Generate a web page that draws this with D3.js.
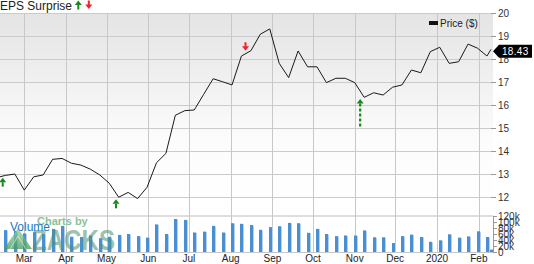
<!DOCTYPE html>
<html><head><meta charset="utf-8">
<script src="https://cdn.jsdelivr.net/npm/d3@7"></script>
<style>html,body{margin:0;padding:0;background:#fff;}svg{display:block;font-family:"Liberation Sans",Arial,sans-serif;}</style>
</head><body><svg id="c" width="534" height="264"></svg>
<script>
// ---- data ----
const priceDates = ["2019-02-11","2019-02-15","2019-02-22","2019-03-01","2019-03-08","2019-03-15","2019-03-22","2019-03-29","2019-04-05","2019-04-12","2019-04-19","2019-04-26","2019-05-03","2019-05-10","2019-05-17","2019-05-24","2019-05-31","2019-06-07","2019-06-14","2019-06-21","2019-06-28","2019-07-05","2019-07-12","2019-07-19","2019-07-26","2019-08-02","2019-08-09","2019-08-16","2019-08-23","2019-08-30","2019-09-06","2019-09-13","2019-09-20","2019-09-27","2019-10-04","2019-10-11","2019-10-18","2019-10-25","2019-11-01","2019-11-08","2019-11-15","2019-11-22","2019-11-29","2019-12-06","2019-12-13","2019-12-20","2019-12-27","2020-01-03","2020-01-10","2020-01-17","2020-01-24","2020-01-31","2020-02-07","2020-02-10"];
const prices = [12.88,12.94,13.00,12.30,12.88,12.96,13.64,13.68,13.47,13.39,13.21,12.96,12.60,11.99,12.20,11.93,12.42,13.49,13.90,15.56,15.76,15.79,16.47,17.15,17.02,16.88,18.14,18.37,19.09,19.32,17.82,17.20,18.36,17.67,17.67,16.98,17.17,17.17,16.98,16.34,16.54,16.44,16.78,16.88,17.53,17.41,18.33,18.52,17.82,17.89,18.66,18.48,18.14,18.43];
const volDates = priceDates.slice(1);
const volumes = [73,70,62,66,60,77,87,51,50,55,46,51,57,60,53,48,92,60,110,107,65,68,87,65,96,94,90,74,83,86,97,96,64,77,60,53,55,55,72,49,49,30,53,58,50,34,39,59,48,52,69,50,8]; // thousands
const epsDates = ["2019-02-13","2019-05-08","2019-08-12","2019-11-05"];
const epsDir = ["up","up","down","up-dashed"];
const epsAnchor = [12.84,11.90,18.37,16.27];
const monthTicks = ["2019-03-01","2019-04-01","2019-05-01","2019-06-01","2019-07-01","2019-08-01","2019-09-01","2019-10-01","2019-11-01","2019-12-01","2020-01-01","2020-02-01"];
const monthLabels = ["Mar","Apr","May","Jun","Jul","Aug","Sep","Oct","Nov","Dec","2020","Feb"];
const priceTicks = [12,13,14,15,16,17,18,19,20];
const volTicks = [0,20,40,60,80,100,120];
const volTickLabels = ["0","20k","40k","60k","80k","100k","120k"];
const lastPrice = "18.43";

// ---- layout ----
const svg = d3.select("#c");
const parse = d3.timeParse("%Y-%m-%d");
const plotL = 0, plotR = 493, plotT = 13, sepY = 216, plotB = 252;
const x = d3.scaleTime().domain([parse("2019-02-11"), parse("2020-02-10")]).range([0, 491]);
const y = d3.scaleLinear().domain([12, 20]).range([197, 13.3]);
const yv = d3.scaleLinear().domain([0, 120]).range([plotB, sepY]);
const GREEN = "#17891b", RED = "#f0232b";

const defs = svg.append("defs");
const g = defs.append("linearGradient").attr("id","bg").attr("x1",0).attr("y1",0).attr("x2",0).attr("y2",1);
g.append("stop").attr("offset","0%").attr("stop-color","#e4e4e4");
g.append("stop").attr("offset","35%").attr("stop-color","#f1f1f1");
g.append("stop").attr("offset","62%").attr("stop-color","#fcfcfc");
g.append("stop").attr("offset","100%").attr("stop-color","#ffffff");
const lg = defs.append("linearGradient").attr("id","logo").attr("x1",0).attr("y1",0).attr("x2",0).attr("y2",1);
lg.append("stop").attr("offset","0%").attr("stop-color","#9fd3a6");
lg.append("stop").attr("offset","100%").attr("stop-color","#3f9a5a");

svg.append("rect").attr("x",plotL).attr("y",plotT).attr("width",plotR-plotL).attr("height",sepY-plotT).attr("fill","url(#bg)");

// horizontal gridlines (price)
svg.append("g").selectAll("line").data(priceTicks).join("line")
  .attr("x1",plotL).attr("x2",plotR).attr("y1",d=>Math.round(y(d))+0.5).attr("y2",d=>Math.round(y(d))+0.5)
  .attr("stroke","#cbcbcb").attr("stroke-width",1);
// separator
svg.append("line").attr("x1",plotL).attr("x2",plotR).attr("y1",sepY).attr("y2",sepY).attr("stroke","#dedede").attr("stroke-width",2);
// bottom line
svg.append("line").attr("x1",plotL).attr("x2",plotR).attr("y1",plotB+0.5).attr("y2",plotB+0.5).attr("stroke","#c8c8c8");
// vertical gridlines
svg.append("g").selectAll("line").data(monthTicks).join("line")
  .attr("x1",d=>Math.round(x(parse(d)))+0.5).attr("x2",d=>Math.round(x(parse(d)))+0.5)
  .attr("y1",plotT).attr("y2",plotB).attr("stroke","#c8c8c8");

// volume bars
const vb = svg.append("g");
volDates.forEach((d,i)=>{
  const cx = Math.round(x(parse(d)));
  const top = yv(volumes[i]);
  vb.append("rect").attr("x",cx-1).attr("y",top).attr("width",3).attr("height",plotB-top).attr("fill","#4a8fd1");
  vb.append("rect").attr("x",cx+2).attr("y",top+0.5).attr("width",1).attr("height",plotB-top-0.5).attr("fill","#b3d0ee");
});

// watermark
svg.append("path").attr("d","M4,249 L18,228 L32,249 Z").attr("fill","url(#logo)").attr("opacity",0.75);
svg.append("path").attr("d","M10,249 L18,236 L26,249").attr("fill","none").attr("stroke","#d8eedc").attr("stroke-width",1).attr("opacity",0.7);
svg.append("text").attr("x",37).attr("y",225).attr("font-size",11).attr("font-weight","bold").attr("fill","#7dbb8d").attr("opacity",0.9).text("Charts by");
svg.append("text").attr("x",32).attr("y",250).attr("font-size",29).attr("font-weight","bold")
  .attr("textLength",83).attr("lengthAdjust","spacingAndGlyphs").attr("fill","#4e9270").attr("opacity",0.55).text("ZACKS");
svg.append("text").attr("x",10).attr("y",231).attr("font-size",12).attr("fill","#1f77c4").text("Volume");

// price line
const line = d3.line().x((d,i)=>x(parse(priceDates[i]))).y(d=>y(d));
svg.append("path").datum(prices).attr("d",line).attr("fill","none").attr("stroke","#1a1a1a").attr("stroke-width",1);

// eps arrows
function upArrow(gx, cx, tip, color, dashed) {
  gx.append("path").attr("d",`M${cx},${tip} L${cx-3.5},${tip+4.5} L${cx+3.5},${tip+4.5} Z`).attr("fill",color);
  if (dashed) {
    gx.append("line").attr("x1",cx).attr("x2",cx).attr("y1",tip+4.5).attr("y2",tip+29)
      .attr("stroke",color).attr("stroke-width",2.2).attr("stroke-dasharray","3,2");
  } else {
    gx.append("rect").attr("x",cx-1).attr("y",tip+4.5).attr("width",2).attr("height",4.5).attr("fill",color);
  }
}
function downArrow(gx, cx, tip, color) {
  gx.append("rect").attr("x",cx-1).attr("y",tip-8.5).attr("width",2).attr("height",4.5).attr("fill",color);
  gx.append("path").attr("d",`M${cx},${tip} L${cx-3.5},${tip-4.5} L${cx+3.5},${tip-4.5} Z`).attr("fill",color);
}
const ea = svg.append("g");
epsDates.forEach((d,i)=>{
  const cx = x(parse(d)), tip = y(epsAnchor[i]);
  if (epsDir[i]==="down") downArrow(ea, cx, tip, RED);
  else upArrow(ea, cx, tip, GREEN, epsDir[i]==="up-dashed");
});

// title
svg.append("text").attr("x",0).attr("y",9.5).attr("font-size",12).attr("fill","#222").text("EPS Surprise");
upArrow(svg, 78.3, 0.5, GREEN, false);
downArrow(svg, 88.8, 9, RED);

// legend
svg.append("rect").attr("x",429).attr("y",21).attr("width",9).attr("height",4).attr("fill","#111");
svg.append("text").attr("x",440).attr("y",27).attr("font-size",10).attr("fill","#222").text("Price ($)");

// right price axis
const ra = svg.append("g");
priceTicks.forEach(t=>{
  const yy = Math.round(y(t))+0.5;
  ra.append("line").attr("x1",plotR-2).attr("x2",plotR+3).attr("y1",yy).attr("y2",yy).attr("stroke","#999");
  ra.append("text").attr("x",498).attr("y",yy).attr("dy","0.35em").attr("font-size",10).attr("fill","#333").text(t);
});
// volume axis
const va = svg.append("g");
va.append("line").attr("x1",plotR+0.5).attr("x2",plotR+0.5).attr("y1",sepY).attr("y2",plotB).attr("stroke","#999");
volTicks.forEach((t,i)=>{
  const yy = Math.round(yv(t))+0.5;
  va.append("line").attr("x1",plotR).attr("x2",plotR+4).attr("y1",yy).attr("y2",yy).attr("stroke","#999");
  va.append("text").attr("x",498).attr("y",yy).attr("dy","0.35em").attr("font-size",10).attr("fill","#333").text(volTickLabels[i]);
});

// x labels
svg.append("g").selectAll("text").data(monthTicks).join("text")
  .attr("x",(d)=>x(parse(d))).attr("y",262).attr("text-anchor","middle").attr("font-size",10).attr("fill","#222")
  .text((d,i)=>monthLabels[i]);

// last price tag
const ly = y(+lastPrice) + 2;
svg.append("path").attr("d",`M493,${ly} L499,${ly-6.5} L532,${ly-6.5} L532,${ly+6.5} L499,${ly+6.5} Z`).attr("fill","#000");
svg.append("text").attr("x",502).attr("y",ly).attr("dy","0.36em").attr("font-size",10).attr("letter-spacing","0.3").attr("fill","#fff").text(lastPrice);
</script></body></html>
